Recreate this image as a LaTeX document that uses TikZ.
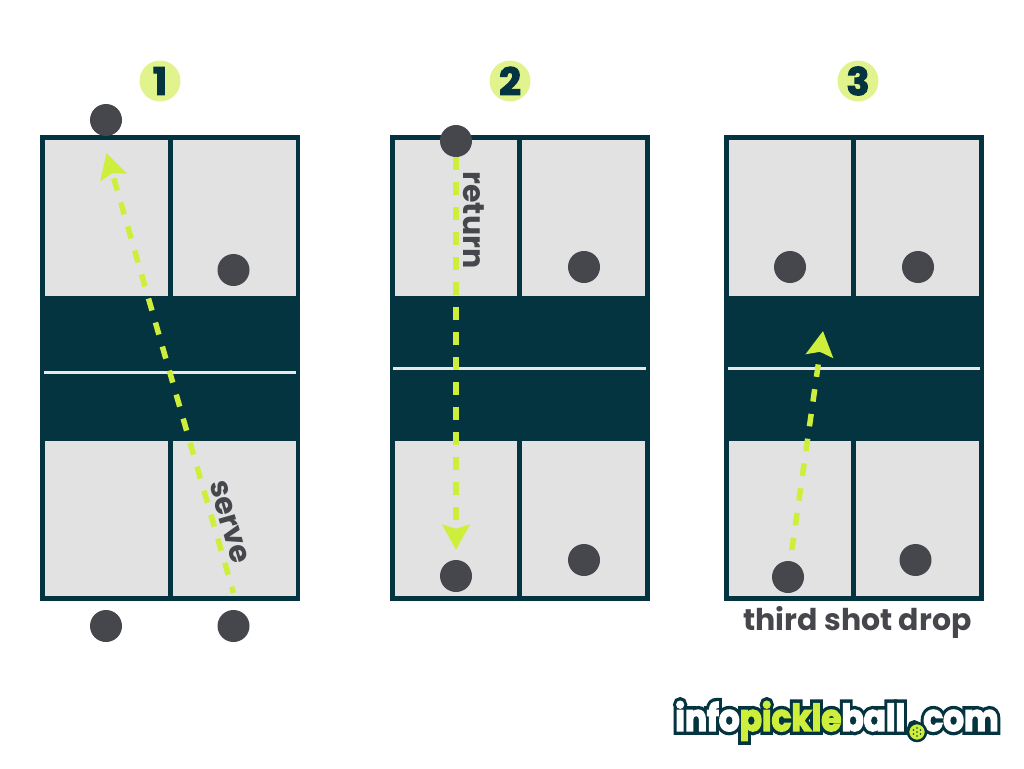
\documentclass[tikz,border=0pt]{standalone}
\usepackage{fontspec}
\setmainfont{Poppins}
\usetikzlibrary{arrows.meta,calc}
\definecolor{deep}{HTML}{04343F}
\definecolor{lime}{HTML}{CDEF3C}
\definecolor{badge}{HTML}{E0F38C}
\definecolor{clay}{HTML}{E2E2E2}
\definecolor{ink}{HTML}{45474C}
\newfontfamily\logofat{Poppins}[FakeBold=22,UprightFont=* Bold]
\newfontfamily\logoface{Poppins}[FakeBold=4,UprightFont=* Bold]
\newfontfamily\numface{Poppins}[FakeBold=3,UprightFont=* Bold]
\newcommand\lb[1]{\textcolor{lime}{#1}}
\tikzset{
  player/.style={circle, fill=ink, minimum size=32, inner sep=0},
  numbr/.style={circle, fill=badge, text=deep, minimum size=41, inner sep=0,
    font=\numface\fontsize{38}{38}\selectfont},
  half/.style={draw=deep, line width=4.7, fill=clay, minimum width=127.6,
    inner sep=0, outer sep=0},
  tophalf/.style={half, minimum height=162},
  lowhalf/.style={half, minimum height=160.5},
  kitchen/.style={fill=deep, minimum width=260, minimum height=145, inner sep=0},
  net/.style={draw=clay!80!white, line width=3},
  shot/.style={draw=lime, line width=5.5, dash pattern=on 12.5 off 12.5,
    -{Stealth[length=25, width=27, inset=4]}},
  call/.style={text=ink, font=\fontsize{30}{30}\selectfont\bfseries, inner sep=0},
}

\begin{document}
\begin{tikzpicture}[x=1pt, y=-1pt]
  \useasboundingbox (0, 0) rectangle (1024, 768);

  % first court
  \node[tophalf] at (106.3, 218.8) (tl1) {};
  \node[tophalf] at (234.1, 218.8) (tr1) {};
  \node[lowhalf] at (106.3, 518.25) (bl1) {};
  \node[lowhalf] at (234.1, 518.25) (br1) {};
  \node[kitchen] at (170.2, 368) (mid1) {};
  \draw[net] ($(mid1.west |- 0, 372)+(4, 0)$) coordinate (nl1) -- ($(mid1.east |- 0, 372)+(-4, 0)$) coordinate (nr1);
  \node[numbr] at (160, 81) (num1) {1};
  \node[player] at (106, 120) (a1) {};
  \node[player] at (233.5, 270) (b1) {};
  \node[player] at (106, 626) (c1) {};
  \node[player] at (233.5, 626) (d1) {};
  \coordinate (s1) at (233.5, 593);
  \coordinate (e1) at (106.5, 153);
  \draw[shot, dash phase=6] (s1) -- (e1);
  \node[call, rotate=-74] at (229, 522) (serve) {serve};

  % second court
  \node[tophalf] at (456, 218.8) (tl2) {};
  \node[tophalf] at (583.6, 218.8) (tr2) {};
  \node[lowhalf] at (456, 518.25) (bl2) {};
  \node[lowhalf] at (583.6, 518.25) (br2) {};
  \node[kitchen] at (519.6, 368.5) (mid2) {};
  \draw[net] ($(mid2.west |- 0, 368)+(4, 0)$) coordinate (nl2) -- ($(mid2.east |- 0, 368)+(-4, 0)$) coordinate (nr2);
  \node[numbr] at (510, 81) (num2) {2};
  \node[player] at (456, 141) (a2) {};
  \node[player] at (584, 267) (b2) {};
  \node[player] at (456, 576) (c2) {};
  \node[player] at (584, 560) (d2) {};
  \draw[shot, shorten >=10] (a2) -- (c2);
  \node[call, rotate=-90] at (474, 220) (return) {return};

  % third court
  \node[tophalf] at (790, 218.8) (tl3) {};
  \node[tophalf] at (917.6, 218.8) (tr3) {};
  \node[lowhalf] at (790, 518.25) (bl3) {};
  \node[lowhalf] at (917.6, 518.25) (br3) {};
  \node[kitchen] at (853.8, 368.5) (mid3) {};
  \draw[net] ($(mid3.west |- 0, 368)+(4, 0)$) coordinate (nl3) -- ($(mid3.east |- 0, 368)+(-4, 0)$) coordinate (nr3);
  \node[numbr] at (858, 81) (num3) {3};
  \node[player] at (790, 267) (a3) {};
  \node[player] at (918, 267) (b3) {};
  \node[player] at (788, 577) (c3) {};
  \node[player] at (915.5, 560) (d3) {};
  \coordinate (e3) at (823, 331);
  \draw[shot, shorten <=11] (c3) -- (e3);
  \node[call] at (857.5, 622.5) (drop) {third shot drop};

  % logo
  \node[text=deep, inner sep=0, xscale=.885, transform shape,
    font=\logofat\fontsize{37}{37}\selectfont] at (837, 721) (logob)
    {infopickleball\hspace{5pt}.\hspace{5pt}com};
  \node[text=white, inner sep=0, xscale=.885, transform shape,
    font=\logoface\fontsize{37}{37}\selectfont] at (837, 721) (logo)
    {info\lb{pickle}ball\hspace{5pt}\lb{.}\hspace{5pt}com};
  \node[circle, fill=lime, draw=deep, line width=2.5, minimum size=18, inner sep=0]
    at (917, 732) (ball) {};
  \foreach \dx/\dy in {0/0, -3.5/-2, 3.5/-2, -3.5/2, 3.5/2, 0/-4, 0/4}
    \fill[deep] ($(ball)+(\dx, \dy)$) circle (.9);
\end{tikzpicture}
\end{document}
